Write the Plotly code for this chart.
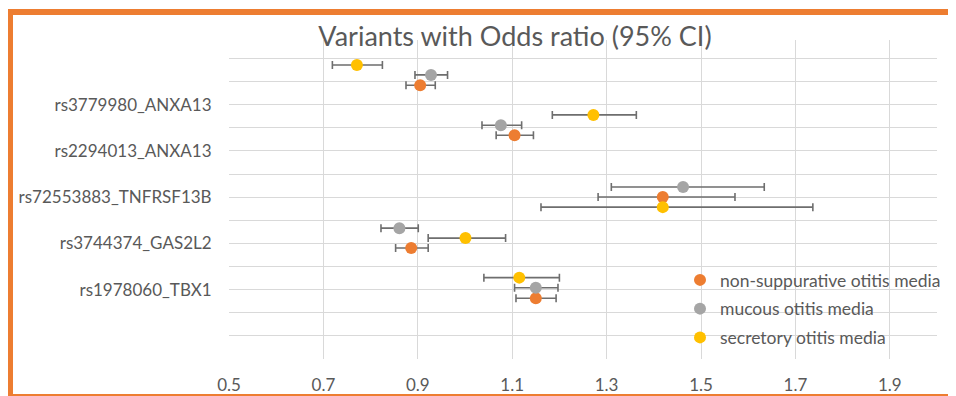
import plotly.graph_objects as go

# ---- data ----
variants = ["rs3779980_ANXA13", "rs2294013_ANXA13", "rs72553883_TNFRSF13B",
            "rs3744374_GAS2L2", "rs1978060_TBX1"]
variant_pos = [11, 9, 7, 5, 3]

x_ticks = [0.5, 0.7, 0.9, 1.1, 1.3, 1.5, 1.7, 1.9]
x_tick_text = ["0.5", "0.7", "0.9", "1.1", "1.3", "1.5", "1.7", "1.9"]

series_names = ["non-suppurative otitis media", "mucous otitis media", "secretory otitis media"]

nonsup_or = [0.905, 1.105, 1.419, 0.886, 1.150]
nonsup_lo = [0.875, 1.066, 1.282, 0.853, 1.108]
nonsup_hi = [0.937, 1.145, 1.572, 0.922, 1.193]
nonsup_y = [11.84, 9.68, 7.01, 4.80, 2.63]

mucous_or = [0.928, 1.076, 1.462, 0.861, 1.150]
mucous_lo = [0.894, 1.036, 1.310, 0.822, 1.105]
mucous_hi = [0.963, 1.120, 1.634, 0.901, 1.197]
mucous_y = [12.29, 10.11, 7.44, 5.66, 3.08]

secret_or = [0.771, 1.272, 1.419, 1.001, 1.115]
secret_lo = [0.719, 1.185, 1.161, 0.922, 1.040]
secret_hi = [0.825, 1.363, 1.737, 1.086, 1.200]
secret_y = [12.72, 10.56, 6.57, 5.23, 3.52]

colors = ["#ED7D31", "#A5A5A5", "#FFC000"]
FONT = "Lato"
TEXT = "#595959"
GRID = "#D9D9D9"

# page has an 8px body margin, so the figure is drawn 8px smaller and pixel
# coordinates below are page coordinates minus 8
OFF = 8
W, H = 956 - OFF, 396 - OFF
ML, MR, MT, MB = 229 - OFF, 19, 40 - OFF, 37

fig = go.Figure()
for name, orv, lo, hi, yv, col in [
    (series_names[0], nonsup_or, nonsup_lo, nonsup_hi, nonsup_y, colors[0]),
    (series_names[1], mucous_or, mucous_lo, mucous_hi, mucous_y, colors[1]),
    (series_names[2], secret_or, secret_lo, secret_hi, secret_y, colors[2]),
]:
    fig.add_trace(go.Scatter(
        x=orv, y=yv, mode="markers", name=name, legendgroup=name,
        marker=dict(color=col, size=12),
        error_x=dict(type="data", symmetric=False,
                     array=[h - o for h, o in zip(hi, orv)],
                     arrayminus=[o - l for o, l in zip(orv, lo)],
                     color="#6E6E6E", thickness=1.6, width=4),
    ))

pw, ph = W - ML - MR, H - MT - MB
def px2x(p): return (p - OFF - ML) / pw
def py2y(p): return (H - MB - (p - OFF)) / ph

# orange frame
fig.add_shape(type="rect", xref="paper", yref="paper",
              x0=px2x(10), x1=px2x(975), y0=py2y(397), y1=py2y(12),
              line=dict(color="#ED7D31", width=6), fillcolor="rgba(0,0,0,0)", layer="above")

fig.update_layout(
    width=W, height=H,
    margin=dict(l=ML, r=MR, t=MT, b=MB, autoexpand=False),
    paper_bgcolor="white", plot_bgcolor="white",
    font=dict(family=FONT, color=TEXT, size=17),
    title=dict(text="Variants with Odds ratio (95% CI)", x=(515 - OFF) / W, xanchor="center",
               xref="container", y=1 - (37 - OFF) / H, yanchor="middle", yref="container",
               font=dict(family=FONT, size=27, color=TEXT)),
    showlegend=True,
    legend=dict(x=px2x(680), y=py2y(262), xanchor="left", yanchor="top",
                bgcolor="rgba(0,0,0,0)", font=dict(size=17.5, color=TEXT, family=FONT),
                tracegroupgap=3, itemsizing="constant"),
    xaxis=dict(range=[0.5, 2.0], tickvals=x_ticks + [2.0], ticktext=x_tick_text + [""],
               showgrid=True, gridcolor=GRID, gridwidth=1, zeroline=False, showline=False,
               automargin=False,
               ticks="", ticklabelstandoff=14, tickfont=dict(size=17, color=TEXT)),
    yaxis=dict(range=[0, 13.8], tickvals=variant_pos, ticktext=variants,
               showgrid=True, gridcolor=GRID, gridwidth=1, zeroline=False,
               showline=True, linecolor="white", linewidth=2, automargin=False,
               minor=dict(tick0=0, dtick=1, showgrid=True, gridcolor=GRID, gridwidth=1),
               ticks="", ticklabelstandoff=12, tickfont=dict(size=17, color=TEXT)),
)

fig.write_html("out.html")
